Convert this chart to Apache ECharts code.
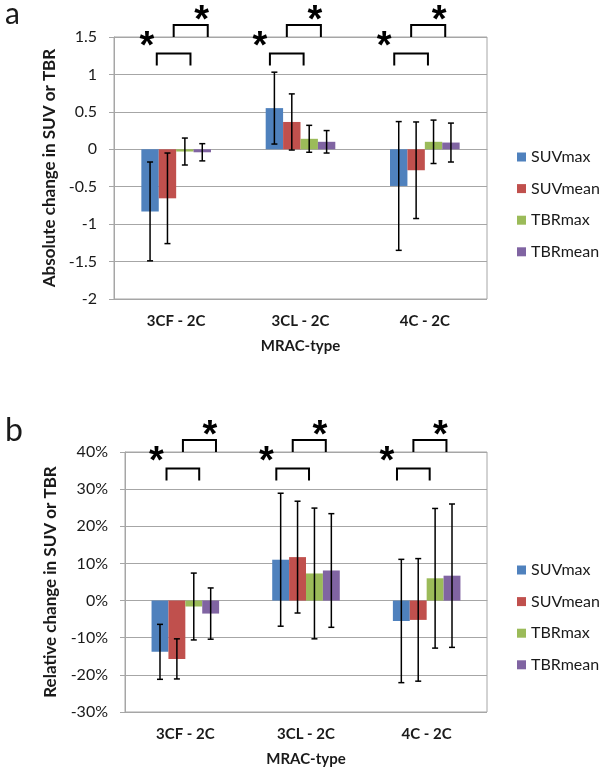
<!DOCTYPE html>
<html>
<head>
<meta charset="utf-8">
<script src="https://cdn.jsdelivr.net/npm/echarts@6/dist/echarts.min.js"></script>
<style>
html,body{margin:0;padding:0;background:#fff;}
#chart{width:600px;height:773px;}
</style>
</head>
<body>
<div id="chart"></div>
<script>
// ---- Data ----
const categories = ['3CF - 2C', '3CL - 2C', '4C - 2C'];
const seriesNames = ['SUVmax', 'SUVmean', 'TBRmax', 'TBRmean'];

// Panel a: absolute change (mean) and error (SD)
const absSUVmax  = [-0.83, 0.55, -0.49];
const absSUVmean = [-0.655, 0.365, -0.28];
const absTBRmax  = [-0.03, 0.14, 0.10];
const absTBRmean = [-0.04, 0.10, 0.09];
const absErrSUVmax  = [0.66, 0.48, 0.86];
const absErrSUVmean = [0.605, 0.375, 0.645];
const absErrTBRmax  = [0.18, 0.18, 0.29];
const absErrTBRmean = [0.115, 0.15, 0.26];

// Panel b: relative change (%) and error (SD)
const relSUVmax  = [-13.8, 11.0, -5.5];
const relSUVmean = [-15.7, 11.7, -5.2];
const relTBRmax  = [-1.6, 7.3, 6.0];
const relTBRmean = [-3.5, 8.1, 6.7];
const relErrSUVmax  = [7.4, 17.9, 16.6];
const relErrSUVmean = [5.4, 15.05, 16.5];
const relErrTBRmax  = [9.0, 17.6, 18.8];
const relErrTBRmean = [6.9, 15.3, 19.3];

// Axis ticks
const absTicks = {min: -2, max: 1.5, interval: 0.5};
const relTicks = {min: -30, max: 40, interval: 10};

// significance marker present for each category
const sigCategories = [0, 1, 2];

// ---- Style ----
const colors = ['#4F81BD', '#C0504D', '#9BBB59', '#8064A2'];
const FONT = 'Lato, "Open Sans", sans-serif';
const TXT = '#1a1a1a';
const GRIDC = '#a6a6a6';
const GAP = 0.44;
const bracketShift = [0.09, 0, 0];

const absMeans = [absSUVmax, absSUVmean, absTBRmax, absTBRmean];
const absErrs = [absErrSUVmax, absErrSUVmean, absErrTBRmax, absErrTBRmean];
const relMeans = [relSUVmax, relSUVmean, relTBRmax, relTBRmean];
const relErrs = [relErrSUVmax, relErrSUVmean, relErrTBRmax, relErrTBRmean];

function errRender(k) {
  return function (params, api) {
    const c = api.value(0), m = api.value(1), e = api.value(2);
    const band = api.size([1, 0])[0];
    const bw = band * (1 - GAP) / 4;
    const off = (k - 1.5) * bw;
    const p1 = api.coord([c, m + e]);
    const p2 = api.coord([c, m - e]);
    const x = p1[0] + off;
    const cap = 3;
    const st = {stroke: '#000', lineWidth: 1.5};
    return {type: 'group', children: [
      {type: 'line', shape: {x1: x, y1: p1[1], x2: x, y2: p2[1]}, style: st},
      {type: 'line', shape: {x1: x - cap, y1: p1[1], x2: x + cap, y2: p1[1]}, style: st},
      {type: 'line', shape: {x1: x - cap, y1: p2[1], x2: x + cap, y2: p2[1]}, style: st}
    ]};
  };
}

function bracketRender(yMax) {
  return function (params, api) {
    const c = api.value(0);
    const band = api.size([1, 0])[0];
    const top = api.coord([c, yMax]);
    const cx = top[0], gy = top[1];
    const sh = bracketShift[c] * band;
    const lx1 = cx + (-0.246) * band + sh, lx2 = cx + 0.025 * band + sh;
    const ux1 = cx + (-0.11) * band + sh, ux2 = cx + 0.164 * band + sh;
    const st = {stroke: '#000', lineWidth: 2, fill: null};
    const ly = gy + 16.5, lyb = gy + 28.5;
    const uy = gy - 12, uyb = gy;
    const astStyle = {text: '*', font: 'bold 38px "Liberation Sans", Arial, sans-serif', fill: '#000', textAlign: 'center', textVerticalAlign: 'middle'};
    return {type: 'group', children: [
      {type: 'polyline', shape: {points: [[lx1, lyb], [lx1, ly], [lx2, ly], [lx2, lyb]]}, style: st},
      {type: 'polyline', shape: {points: [[ux1, uyb], [ux1, uy], [ux2, uy], [ux2, uyb]]}, style: st},
      {type: 'text', x: lx1 - 10, y: gy + 11, style: astStyle},
      {type: 'text', x: ux2 - 6, y: gy - 15, style: astStyle}
    ]};
  };
}

const series = [];
function addPanel(gi, means, errs, yMax) {
  for (let k = 0; k < 4; k++) {
    series.push({
      name: seriesNames[k], type: 'bar', xAxisIndex: gi, yAxisIndex: gi,
      data: means[k], barGap: '0%', barCategoryGap: (GAP * 100) + '%',
      itemStyle: {color: colors[k]}, emphasis: {disabled: true}
    });
  }
  for (let k = 0; k < 4; k++) {
    series.push({
      name: seriesNames[k], type: 'custom', xAxisIndex: gi, yAxisIndex: gi,
      renderItem: errRender(k), z: 5, clip: false,
      data: categories.map((_, i) => [i, means[k][i], errs[k][i]])
    });
  }
  series.push({
    type: 'custom', xAxisIndex: gi, yAxisIndex: gi, renderItem: bracketRender(yMax),
    z: 6, clip: false, silent: true,
    data: sigCategories.map(i => [i])
  });
}
addPanel(0, absMeans, absErrs, absTicks.max);
addPanel(1, relMeans, relErrs, relTicks.max);

function xAxis(gi) {
  return {
    type: 'category', gridIndex: gi, data: categories,
    name: 'MRAC-type', nameLocation: 'middle', nameGap: 40,
    nameTextStyle: {fontFamily: FONT, fontSize: 15, fontWeight: 'bold', color: TXT},
    axisLine: {show: true, lineStyle: {color: GRIDC}}, axisTick: {show: false},
    axisLabel: {fontFamily: FONT, fontSize: 15, fontWeight: 'bold', color: TXT, margin: 15}
  };
}
function yAxis(gi, t, name, gap, fmt) {
  return {
    type: 'value', gridIndex: gi, min: t.min, max: t.max, interval: t.interval,
    name: name, nameLocation: 'middle', nameGap: gap, nameRotate: 90,
    nameTextStyle: {fontFamily: FONT, fontSize: 17, fontWeight: 'bold', color: TXT},
    axisLine: {show: true, lineStyle: {color: GRIDC}},
    axisTick: {show: true, length: 5, lineStyle: {color: GRIDC}},
    splitLine: {show: true, lineStyle: {color: GRIDC, width: 1}},
    axisLabel: {fontFamily: FONT, fontSize: 16, color: TXT, margin: 17, formatter: fmt}
  };
}

const legendBase = {
  orient: 'vertical', itemWidth: 9, itemHeight: 9, itemGap: 14.6, icon: 'rect',
  textStyle: {fontFamily: FONT, fontSize: 16, color: TXT, lineHeight: 17},
  data: seriesNames, selectedMode: false
};

const option = {
  animation: false,
  backgroundColor: '#fff',
  title: [
    {text: 'a', left: 0, top: -6, textStyle: {fontFamily: FONT, fontSize: 30, fontWeight: 'normal', color: TXT}},
    {text: 'b', left: 0, top: 410, textStyle: {fontFamily: FONT, fontSize: 32, fontWeight: 'normal', color: TXT}}
  ],
  grid: [
    {left: 114, right: 113, top: 37, bottom: 474, show: true, borderColor: GRIDC, borderWidth: 1},
    {left: 125, right: 113, top: 452, bottom: 61, show: true, borderColor: GRIDC, borderWidth: 1}
  ],
  legend: [
    Object.assign({}, legendBase, {left: 512, top: 143.5}),
    Object.assign({}, legendBase, {left: 512, top: 556.5})
  ],
  xAxis: [xAxis(0), xAxis(1)],
  yAxis: [
    yAxis(0, absTicks, 'Absolute change in SUV or TBR', 55, v => String(v)),
    yAxis(1, relTicks, 'Relative change in SUV or TBR', 66, v => v + '%')
  ],
  series: series
};

const chart = echarts.init(document.getElementById('chart'), null, {renderer: 'canvas'});
chart.setOption(option);
</script>
</body>
</html>
